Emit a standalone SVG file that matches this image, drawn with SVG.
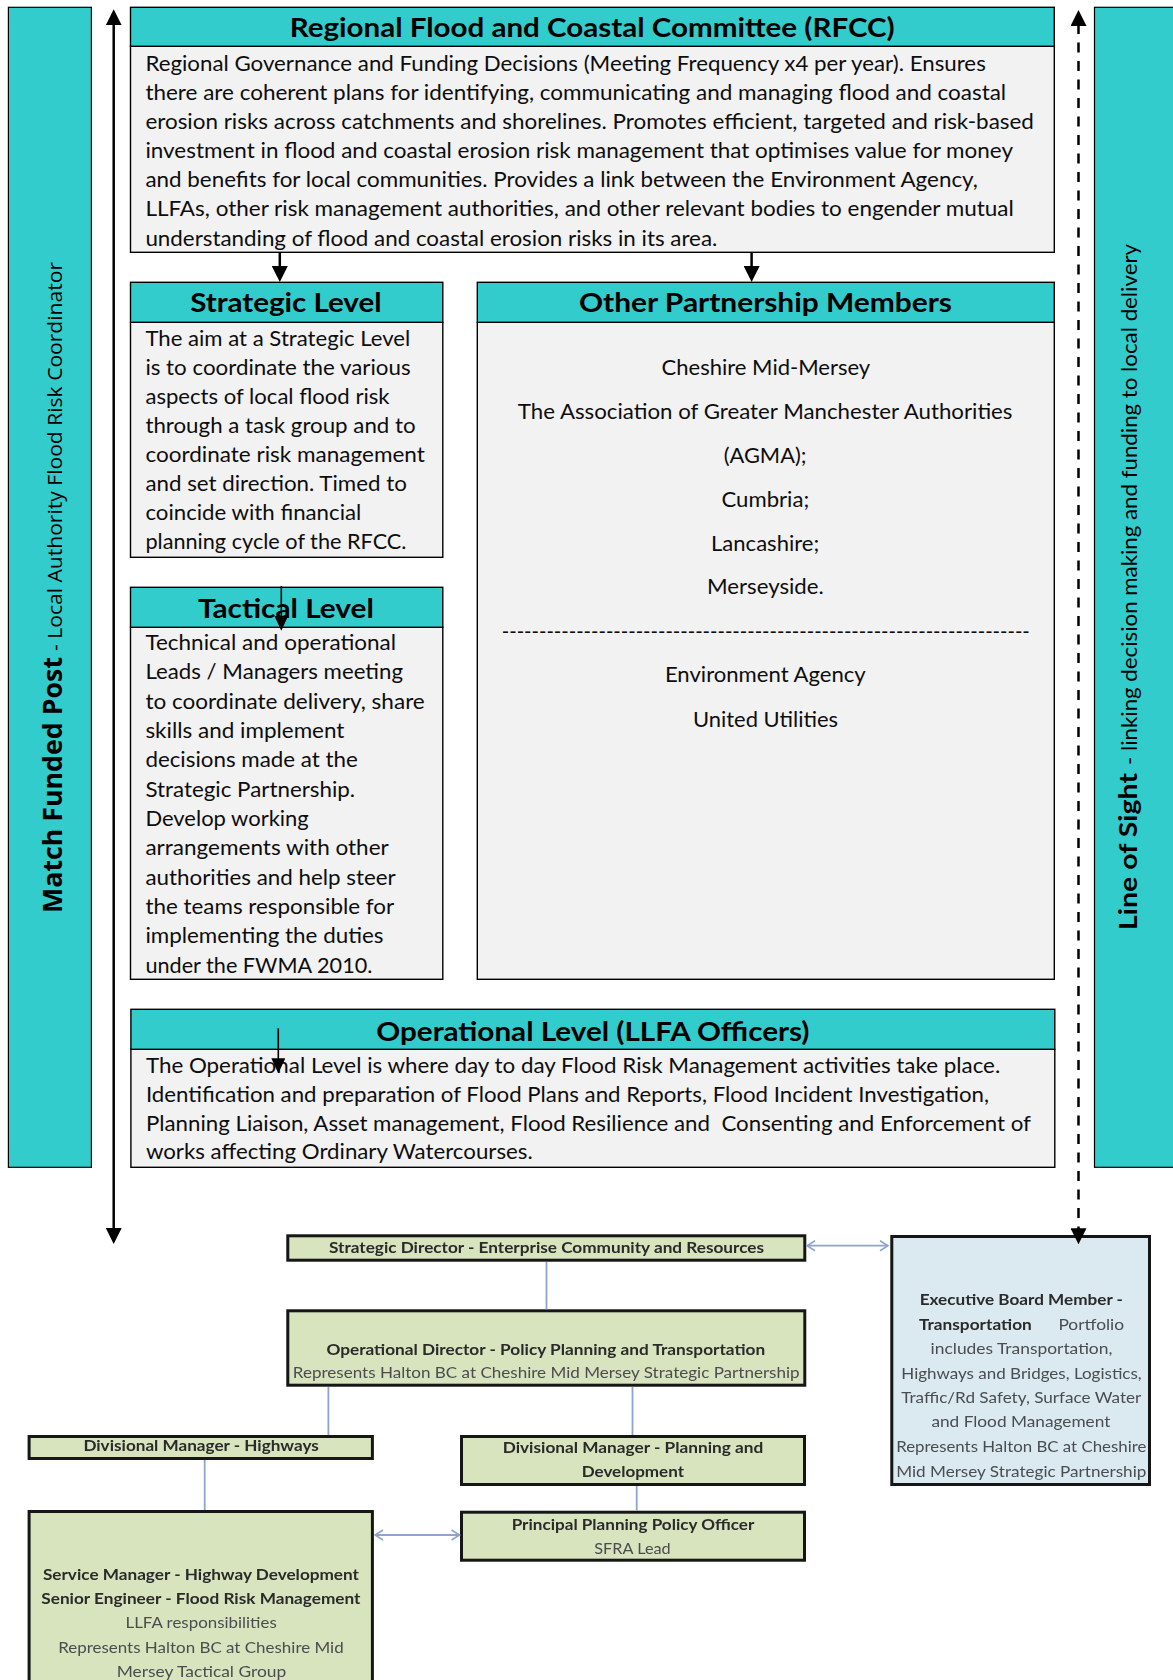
<svg xmlns="http://www.w3.org/2000/svg" width="1173" height="1680" viewBox="0 0 1173 1680">
  <defs>
    <style>
      .bar { fill:#33CCCC; stroke:#000; stroke-width:1.2; }
      .hdr { fill:#33CCCC; stroke:#000; stroke-width:1.4; }
      .body { fill:#F2F2F2; stroke:#000; stroke-width:1.4; }
      .t { font-family:Lato, "Liberation Sans", sans-serif; font-size:22px; fill:#0d0d0d; }
      .ttl { font-family:Lato, "Liberation Sans", sans-serif; font-size:27px; font-weight:bold; fill:#000; }
      .side-b { font-family:"Open Sans", "Liberation Sans", sans-serif; font-size:27px; font-weight:bold; fill:#000; }
      .side-n { font-family:"Open Sans", "Liberation Sans", sans-serif; font-size:20px; fill:#000; }
      .los-b { font-family:Lato, "Liberation Sans", sans-serif; font-size:24px; font-weight:bold; fill:#000; }
      .los-n { font-family:Lato, "Liberation Sans", sans-serif; font-size:21px; fill:#000; }
      .oc { fill:#d7e4bd; stroke:#141414; stroke-width:3; }
      .oc-exec { fill:#dbe9f1; stroke:#141414; stroke-width:3; }
      .ob { font-family:Lato, "Liberation Sans", sans-serif; font-size:15px; font-weight:bold; fill:#2a2a2a; }
      .on { font-family:Lato, "Liberation Sans", sans-serif; font-size:15px; fill:#4a4d50; }
      .link { fill:none; stroke:#000; stroke-width:2.5; }
      .link-thin { fill:none; stroke:#000; stroke-width:1.6; }
      .dash { fill:none; stroke:#000; stroke-width:2.5; stroke-dasharray:10 8.5; }
      .oc-link { fill:none; stroke:#8fa4cc; stroke-width:1.8; }
    </style>
    <marker id="head" viewBox="0 0 16 16" markerWidth="16" markerHeight="16" refX="2" refY="8" orient="auto-start-reverse" markerUnits="userSpaceOnUse">
      <path d="M0,0 L16,8 L0,16 z" fill="#000"/>
    </marker>
    <marker id="head-sm" viewBox="0 0 15 14" markerWidth="15" markerHeight="14" refX="2" refY="7" orient="auto-start-reverse" markerUnits="userSpaceOnUse">
      <path d="M0,0 L15,7 L0,14 z" fill="#000"/>
    </marker>
    <marker id="chevron" viewBox="0 0 10 12" markerWidth="10" markerHeight="12" refX="9" refY="6" orient="auto-start-reverse" markerUnits="userSpaceOnUse">
      <path d="M1,1 L9,6 L1,11" fill="none" stroke="#8fa4cc" stroke-width="1.6"/>
    </marker>
    <filter id="soft" x="-5%" y="-5%" width="110%" height="110%">
      <feGaussianBlur stdDeviation="0.55"/>
    </filter>
  </defs>

  <rect width="1173" height="1680" fill="#fff"/>

  <!-- side bars -->
  <g id="match-funded-post">
    <rect class="bar" x="8.4" y="7.3" width="83" height="1160"/>
    <text class="side-b" transform="translate(61.5,913) rotate(-90)" textLength="256" lengthAdjust="spacingAndGlyphs">Match Funded Post</text>
    <text class="side-n" transform="translate(61.5,651) rotate(-90)" textLength="389" lengthAdjust="spacingAndGlyphs">- Local Authority Flood Risk Coordinator</text>
  </g>

  <g id="line-of-sight">
    <rect class="bar" x="1094.5" y="7.3" width="100" height="1160"/>
    <text class="los-b" transform="translate(1137,930) rotate(-90)" textLength="157" lengthAdjust="spacingAndGlyphs">Line of Sight</text>
    <text class="los-n" transform="translate(1137,765) rotate(-90)" textLength="521" lengthAdjust="spacingAndGlyphs">- linking decision making and funding to local delivery</text>
  </g>

  <!-- RFCC -->
  <g id="rfcc">
    <rect class="body" x="130.5" y="46.3" width="923.8" height="206"/>
    <rect class="hdr" x="130.5" y="7.3" width="923.8" height="39"/>
    <text class="ttl" x="289.7" y="37.3" textLength="605" lengthAdjust="spacingAndGlyphs">Regional Flood and Coastal Committee (RFCC)</text>
    <text class="t" x="145.4" y="70.5" textLength="840.4" lengthAdjust="spacingAndGlyphs">Regional Governance and Funding Decisions (Meeting Frequency x4 per year). Ensures</text>
    <text class="t" x="145.4" y="99.7" textLength="860.8" lengthAdjust="spacingAndGlyphs">there are coherent plans for identifying, communicating and managing flood and coastal</text>
    <text class="t" x="145.4" y="128.8" textLength="888.5" lengthAdjust="spacingAndGlyphs">erosion risks across catchments and shorelines. Promotes efficient, targeted and risk-based</text>
    <text class="t" x="145.4" y="158" textLength="867.6" lengthAdjust="spacingAndGlyphs">investment in flood and coastal erosion risk management that optimises value for money</text>
    <text class="t" x="145.4" y="187.2" textLength="832.5" lengthAdjust="spacingAndGlyphs">and benefits for local communities. Provides a link between the Environment Agency,</text>
    <text class="t" x="145.4" y="216.3" textLength="868.4" lengthAdjust="spacingAndGlyphs">LLFAs, other risk management authorities, and other relevant bodies to engender mutual</text>
    <text class="t" x="145.4" y="245.5" textLength="571.9" lengthAdjust="spacingAndGlyphs">understanding of flood and coastal erosion risks in its area.</text>
  </g>

  <!-- Strategic Level -->
  <g id="strategic-level">
    <rect class="body" x="130.5" y="322.3" width="312.3" height="235"/>
    <rect class="hdr" x="130.5" y="282.3" width="312.3" height="40"/>
    <text class="ttl" x="190.2" y="312.3" textLength="191.4" lengthAdjust="spacingAndGlyphs">Strategic Level</text>
    <text class="t" x="145.4" y="346" textLength="264.9" lengthAdjust="spacingAndGlyphs">The aim at a Strategic Level</text>
    <text class="t" x="145.4" y="375" textLength="265.2" lengthAdjust="spacingAndGlyphs">is to coordinate the various</text>
    <text class="t" x="145.4" y="404" textLength="244.2" lengthAdjust="spacingAndGlyphs">aspects of local flood risk</text>
    <text class="t" x="145.4" y="433" textLength="270.2" lengthAdjust="spacingAndGlyphs">through a task group and to</text>
    <text class="t" x="145.4" y="462" textLength="279.4" lengthAdjust="spacingAndGlyphs">coordinate risk management</text>
    <text class="t" x="145.4" y="491" textLength="261.4" lengthAdjust="spacingAndGlyphs">and set direction. Timed to</text>
    <text class="t" x="145.4" y="520" textLength="215.9" lengthAdjust="spacingAndGlyphs">coincide with financial</text>
    <text class="t" x="145.4" y="549.3" textLength="261" lengthAdjust="spacingAndGlyphs">planning cycle of the RFCC.</text>
  </g>

  <!-- Other Partnership Members -->
  <g id="other-partnership-members">
    <rect class="body" x="477.3" y="322.3" width="577" height="657"/>
    <rect class="hdr" x="477.3" y="282.3" width="577" height="40"/>
    <text class="ttl" x="579" y="312.3" textLength="373" lengthAdjust="spacingAndGlyphs">Other Partnership Members</text>
    <text class="t" x="661.5" y="375.3" textLength="208.7" lengthAdjust="spacingAndGlyphs">Cheshire Mid-Mersey</text>
    <text class="t" x="517.8" y="418.7" textLength="494.7" lengthAdjust="spacingAndGlyphs">The Association of Greater Manchester Authorities</text>
    <text class="t" x="723.7" y="462.7" textLength="82.8" lengthAdjust="spacingAndGlyphs">(AGMA);</text>
    <text class="t" x="721.5" y="506.7" textLength="87.7" lengthAdjust="spacingAndGlyphs">Cumbria;</text>
    <text class="t" x="711" y="550.7" textLength="108.3" lengthAdjust="spacingAndGlyphs">Lancashire;</text>
    <text class="t" x="707" y="594" textLength="116.8" lengthAdjust="spacingAndGlyphs">Merseyside.</text>
    <text class="t" x="501.8" y="638.5" textLength="528" lengthAdjust="spacingAndGlyphs">-----------------------------------------------------------------------</text>
    <text class="t" x="664.9" y="681.7" textLength="200.8" lengthAdjust="spacingAndGlyphs">Environment Agency</text>
    <text class="t" x="693" y="726.7" textLength="145" lengthAdjust="spacingAndGlyphs">United Utilities</text>
  </g>

  <!-- Tactical Level -->
  <g id="tactical-level">
    <rect class="body" x="130.5" y="627.3" width="312.3" height="352"/>
    <rect class="hdr" x="130.5" y="587.3" width="312.3" height="40"/>
    <text class="ttl" x="197.9" y="618.3" textLength="176" lengthAdjust="spacingAndGlyphs">Tactical Level</text>
    <text class="t" x="145.4" y="650" textLength="250.7" lengthAdjust="spacingAndGlyphs">Technical and operational</text>
    <text class="t" x="145.4" y="679.3" textLength="257.6" lengthAdjust="spacingAndGlyphs">Leads / Managers meeting</text>
    <text class="t" x="145.4" y="708.7" textLength="279.4" lengthAdjust="spacingAndGlyphs">to coordinate delivery, share</text>
    <text class="t" x="145.4" y="738" textLength="199" lengthAdjust="spacingAndGlyphs">skills and implement</text>
    <text class="t" x="145.4" y="767.4" textLength="212.4" lengthAdjust="spacingAndGlyphs">decisions made at the</text>
    <text class="t" x="145.4" y="796.7" textLength="209.7" lengthAdjust="spacingAndGlyphs">Strategic Partnership.</text>
    <text class="t" x="145.4" y="826" textLength="163.4" lengthAdjust="spacingAndGlyphs">Develop working</text>
    <text class="t" x="145.4" y="855.4" textLength="243.4" lengthAdjust="spacingAndGlyphs">arrangements with other</text>
    <text class="t" x="145.4" y="884.7" textLength="250.3" lengthAdjust="spacingAndGlyphs">authorities and help steer</text>
    <text class="t" x="145.4" y="914" textLength="248.8" lengthAdjust="spacingAndGlyphs">the teams responsible for</text>
    <text class="t" x="145.4" y="943.4" textLength="238.1" lengthAdjust="spacingAndGlyphs">implementing the duties</text>
    <text class="t" x="145.4" y="972.7" textLength="227" lengthAdjust="spacingAndGlyphs">under the FWMA 2010.</text>
  </g>

  <!-- Operational Level -->
  <g id="operational-level">
    <rect class="body" x="130.9" y="1049.3" width="923.9" height="118"/>
    <rect class="hdr" x="130.9" y="1009.3" width="923.9" height="40"/>
    <text class="ttl" x="376.3" y="1041" textLength="433.2" lengthAdjust="spacingAndGlyphs">Operational Level (LLFA Officers)</text>
    <text class="t" x="145.9" y="1073.3" textLength="854.3" lengthAdjust="spacingAndGlyphs">The Operational Level is where day to day Flood Risk Management activities take place.</text>
    <text class="t" x="145.9" y="1102" textLength="843.1" lengthAdjust="spacingAndGlyphs">Identification and preparation of Flood Plans and Reports, Flood Incident Investigation,</text>
    <text class="t" x="145.9" y="1130.7" textLength="885" lengthAdjust="spacingAndGlyphs">Planning Liaison, Asset management, Flood Resilience and &#160;Consenting and Enforcement of</text>
    <text class="t" x="145.9" y="1159.3" textLength="386.8" lengthAdjust="spacingAndGlyphs">works affecting Ordinary Watercourses.</text>
  </g>

  <!-- Halton BC organisation chart -->
  <g id="org-chart" filter="url(#soft)">
    <g id="strategic-director">
      <rect class="oc" x="287.8" y="1235.8" width="517" height="24.4"/>
      <text class="ob" x="329" y="1252.7" textLength="435" lengthAdjust="spacingAndGlyphs">Strategic Director - Enterprise Community and Resources</text>
    </g>
    <g id="operational-director">
      <rect class="oc" x="287.8" y="1310.8" width="517" height="74.4"/>
      <text class="ob" x="326.4" y="1355" textLength="438.8" lengthAdjust="spacingAndGlyphs">Operational Director - Policy Planning and Transportation</text>
      <text class="on" x="292.8" y="1378.3" textLength="506.8" lengthAdjust="spacingAndGlyphs">Represents Halton BC at Cheshire Mid Mersey Strategic Partnership</text>
    </g>
    <g id="dm-highways">
      <rect class="oc" x="29.1" y="1436.5" width="343.3" height="22"/>
      <text class="ob" x="83.4" y="1450.7" textLength="235.4" lengthAdjust="spacingAndGlyphs">Divisional Manager - Highways</text>
    </g>
    <g id="dm-planning">
      <rect class="oc" x="461.5" y="1436.5" width="343" height="48"/>
      <text class="ob" x="502.7" y="1452.7" textLength="260.6" lengthAdjust="spacingAndGlyphs">Divisional Manager - Planning and</text>
      <text class="ob" x="581.7" y="1476.7" textLength="102.3" lengthAdjust="spacingAndGlyphs">Development</text>
    </g>
    <g id="principal-planning-officer">
      <rect class="oc" x="461.5" y="1512.2" width="343" height="48"/>
      <text class="ob" x="511.7" y="1530" textLength="242.6" lengthAdjust="spacingAndGlyphs">Principal Planning Policy Officer</text>
      <text class="on" x="594.3" y="1554" textLength="76.4" lengthAdjust="spacingAndGlyphs">SFRA Lead</text>
    </g>
    <g id="service-manager">
      <rect class="oc" x="29.1" y="1511.5" width="343.3" height="200"/>
      <text class="ob" x="42.9" y="1580" textLength="316.1" lengthAdjust="spacingAndGlyphs">Service Manager - Highway Development</text>
      <text class="ob" x="41.3" y="1604" textLength="319.2" lengthAdjust="spacingAndGlyphs">Senior Engineer - Flood Risk Management</text>
      <text class="on" x="125.5" y="1628.3" textLength="151.2" lengthAdjust="spacingAndGlyphs">LLFA responsibilities</text>
      <text class="on" x="58.2" y="1652.7" textLength="285.5" lengthAdjust="spacingAndGlyphs">Represents Halton BC at Cheshire Mid</text>
      <text class="on" x="116.7" y="1676.7" textLength="169.6" lengthAdjust="spacingAndGlyphs">Mersey Tactical Group</text>
    </g>
    <g id="executive-board-member">
      <rect class="oc-exec" x="891.8" y="1236.5" width="257.7" height="248"/>
      <text class="ob" x="919.7" y="1305" textLength="203.3" lengthAdjust="spacingAndGlyphs">Executive Board Member -</text>
      <text class="ob" x="918.9" y="1330" textLength="112.9" lengthAdjust="spacingAndGlyphs">Transportation</text>
      <text class="on" x="1058.4" y="1330" textLength="65.7" lengthAdjust="spacingAndGlyphs">Portfolio</text>
      <text class="on" x="930.6" y="1354.3" textLength="181.8" lengthAdjust="spacingAndGlyphs">includes Transportation,</text>
      <text class="on" x="901.3" y="1379" textLength="240.4" lengthAdjust="spacingAndGlyphs">Highways and Bridges, Logistics,</text>
      <text class="on" x="901.3" y="1403.3" textLength="240" lengthAdjust="spacingAndGlyphs">Traffic/Rd Safety, Surface Water</text>
      <text class="on" x="931.4" y="1427.3" textLength="179" lengthAdjust="spacingAndGlyphs">and Flood Management</text>
      <text class="on" x="896.2" y="1452.3" textLength="250.2" lengthAdjust="spacingAndGlyphs">Represents Halton BC at Cheshire</text>
      <text class="on" x="896.2" y="1476.7" textLength="250.2" lengthAdjust="spacingAndGlyphs">Mid Mersey Strategic Partnership</text>
    </g>
  </g>

  <!-- connectors -->
  <g id="connectors">
    <path class="link" d="M113.7,23.3 L113.7,1230" marker-start="url(#head)" marker-end="url(#head)"/>
    <path class="dash" d="M1078.5,24 L1078.5,1230.3" marker-start="url(#head)" marker-end="url(#head)"/>
    <path class="link" d="M279.8,252.3 L279.8,268" marker-end="url(#head)"/>
    <path class="link" d="M751.6,252.3 L751.6,268" marker-end="url(#head)"/>
    <path class="link-thin" d="M281.3,586 L281.3,617.7" marker-end="url(#head-sm)"/>
    <path class="link-thin" d="M278.3,1028.3 L278.3,1060.3" marker-end="url(#head-sm)"/>
    <g id="org-links" filter="url(#soft)">
      <path class="oc-link" d="M546.5,1262 L546.5,1309.3"/>
      <path class="oc-link" d="M328.4,1387 L328.4,1435"/>
      <path class="oc-link" d="M632.5,1387 L632.5,1435"/>
      <path class="oc-link" d="M204.7,1460 L204.7,1510"/>
      <path class="oc-link" d="M636.7,1486 L636.7,1510.7"/>
      <path class="oc-link" d="M807,1245.7 L888,1245.7" marker-start="url(#chevron)" marker-end="url(#chevron)"/>
      <path class="oc-link" d="M375,1535 L459.5,1535" marker-start="url(#chevron)" marker-end="url(#chevron)"/>
    </g>
  </g>
</svg>
